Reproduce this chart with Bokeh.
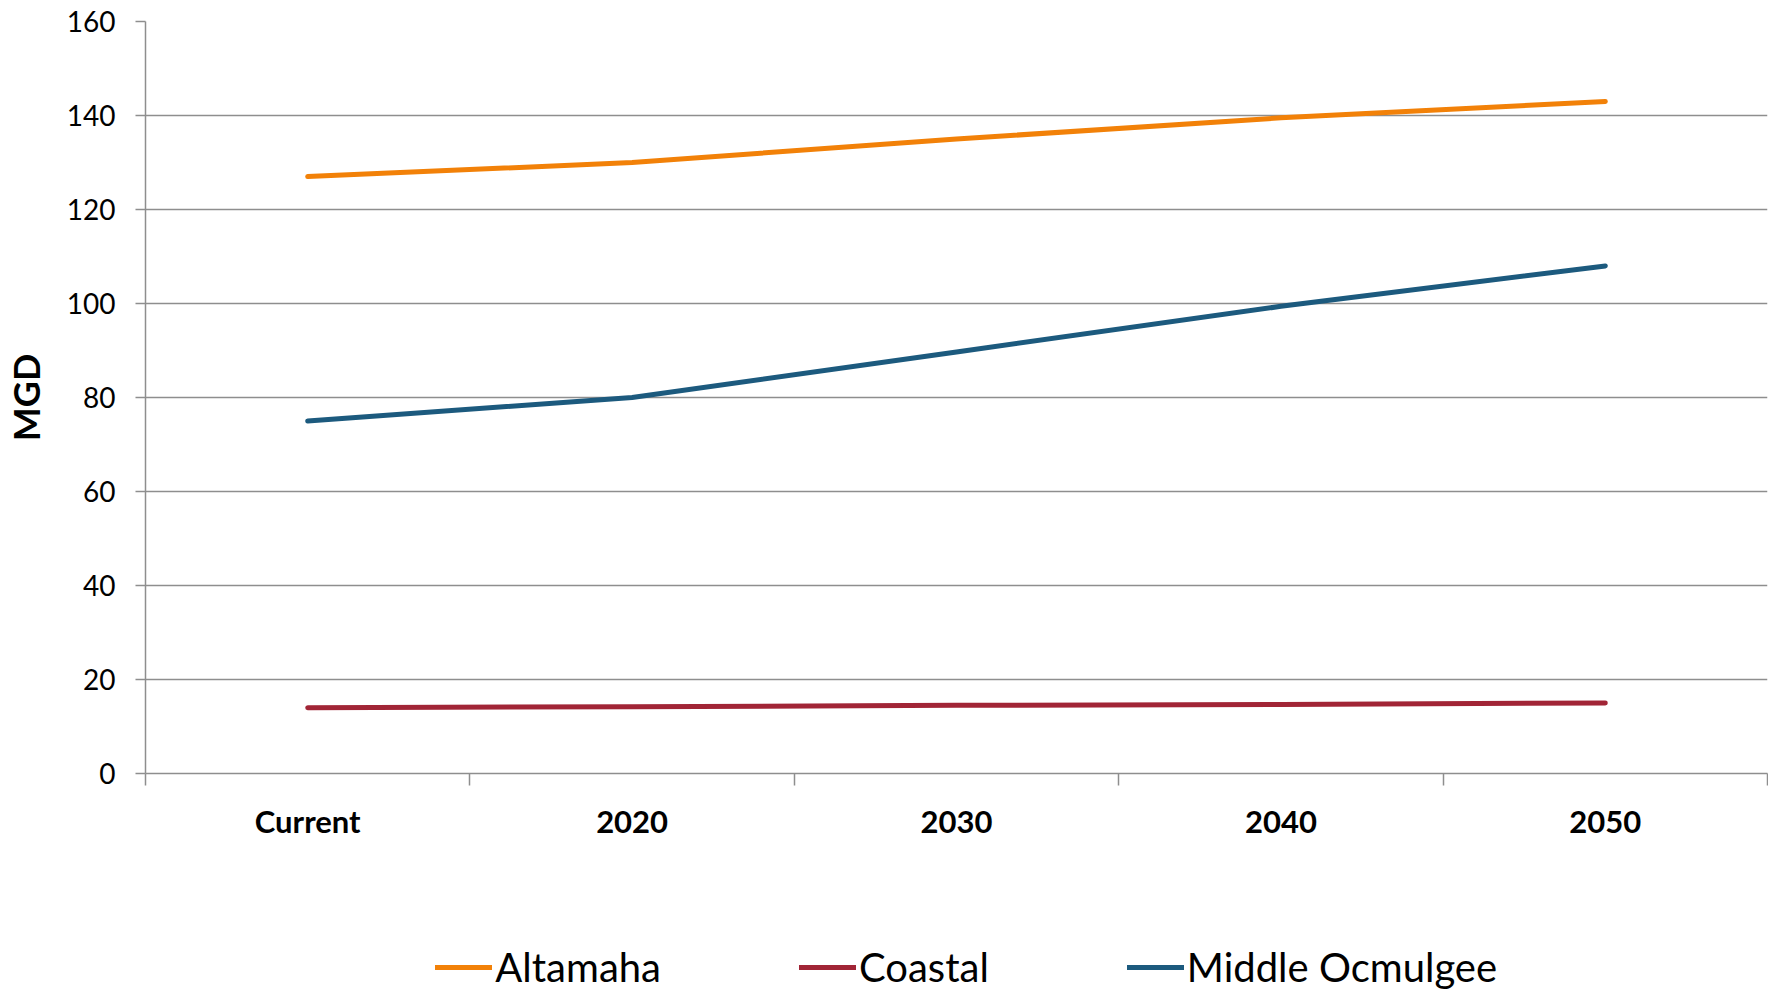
from bokeh.plotting import figure
from bokeh.models import Legend, LegendItem, FixedTicker, Range1d
from bokeh.layouts import column
from bokeh.embed import file_html
from bokeh.resources import INLINE

categories = ["Current", "2020", "2030", "2040", "2050"]
altamaha = [127, 130, 135, 139.5, 143]
coastal = [14, 14.2, 14.5, 14.7, 15]
middle_ocmulgee = [75, 80, 89.7, 99.4, 108]
y_ticks = [0, 20, 40, 60, 80, 100, 120, 140, 160]

FONT = "Lato"
GRAY = "#8e8e8e"

xs = [i + 0.5 for i in range(len(categories))]

p = figure(frame_width=1622, frame_height=752, output_backend="svg", toolbar_location=None,
           x_range=Range1d(0, len(categories)), y_range=Range1d(0, 160),
           min_border_left=138, min_border_right=1, min_border_top=21, min_border_bottom=158)
p.outline_line_color = None
p.background_fill_color = "white"
p.border_fill_color = "white"

series = [("Altamaha", altamaha, "#f28108"),
          ("Coastal", coastal, "#a12536"),
          ("Middle Ocmulgee", middle_ocmulgee, "#1c5a7e")]
for name, vals, col in series:
    p.line(xs, vals, line_color=col, line_width=5, line_cap="round", line_join="round")

# x axis
p.xaxis.ticker = FixedTicker(ticks=xs, minor_ticks=list(range(len(categories) + 1)))
p.xaxis.major_label_overrides = {x: c for x, c in zip(xs, categories)}
p.xaxis.major_tick_out = 0
p.xaxis.major_tick_in = 0
p.xaxis.minor_tick_out = 12
p.xaxis.minor_tick_in = 0
p.xaxis.minor_tick_line_color = GRAY
p.xaxis.minor_tick_line_width = 1.5
p.xaxis.axis_line_color = GRAY
p.xaxis.axis_line_width = 1.5
p.xaxis.major_label_text_font = FONT
p.xaxis.major_label_text_font_style = "bold"
p.xaxis.major_label_text_font_size = "31px"
p.xaxis.major_label_text_color = "black"
p.xaxis.major_label_standoff = 16

# y axis
p.yaxis.ticker = FixedTicker(ticks=y_ticks)
p.yaxis.major_tick_out = 10
p.yaxis.major_tick_in = 0
p.yaxis.minor_tick_line_color = None
p.yaxis.major_tick_line_color = GRAY
p.yaxis.major_tick_line_width = 1.5
p.yaxis.axis_line_color = GRAY
p.yaxis.axis_line_width = 1.5
p.yaxis.major_label_text_font = FONT
p.yaxis.major_label_text_font_size = "28px"
p.yaxis.major_label_text_color = "black"
p.yaxis.major_label_standoff = 20
p.yaxis.axis_label = "MGD"
p.yaxis.axis_label_text_font = FONT
p.yaxis.axis_label_text_font_style = "bold"
p.yaxis.axis_label_text_font_size = "36px"
p.yaxis.axis_label_text_color = "black"
p.yaxis.axis_label_standoff = 16

p.xgrid.grid_line_color = None
p.ygrid.ticker = FixedTicker(ticks=y_ticks)
p.ygrid.grid_line_color = GRAY
p.ygrid.grid_line_width = 1.5

# legend strip underneath the chart (series drawn outside its visible range,
# so only their legend swatches show)
lf = figure(frame_width=1622, frame_height=60, output_backend="svg", toolbar_location=None,
            x_range=Range1d(0, len(categories)), y_range=Range1d(0, 1),
            x_axis_type=None, y_axis_type=None,
            min_border_left=138, min_border_right=1, min_border_top=0, min_border_bottom=0)
lf.outline_line_color = None
lf.xgrid.grid_line_color = None
lf.ygrid.grid_line_color = None
items = []
for name, vals, col in series:
    r = lf.line(xs, vals, line_color=col, line_width=5, line_cap="round")
    items.append(LegendItem(label=name, renderers=[r]))

legend = Legend(items=items, orientation="horizontal", location=(389, 0),
                label_text_font=FONT, label_text_font_size="40px", label_text_color="black",
                glyph_width=57, glyph_height=30, label_standoff=3, spacing=138,
                padding=0, margin=0, border_line_color=None, background_fill_alpha=0)
lf.add_layout(legend)

layout = column(p, lf, spacing=0)
open("out.html", "w").write(file_html(layout, INLINE))
